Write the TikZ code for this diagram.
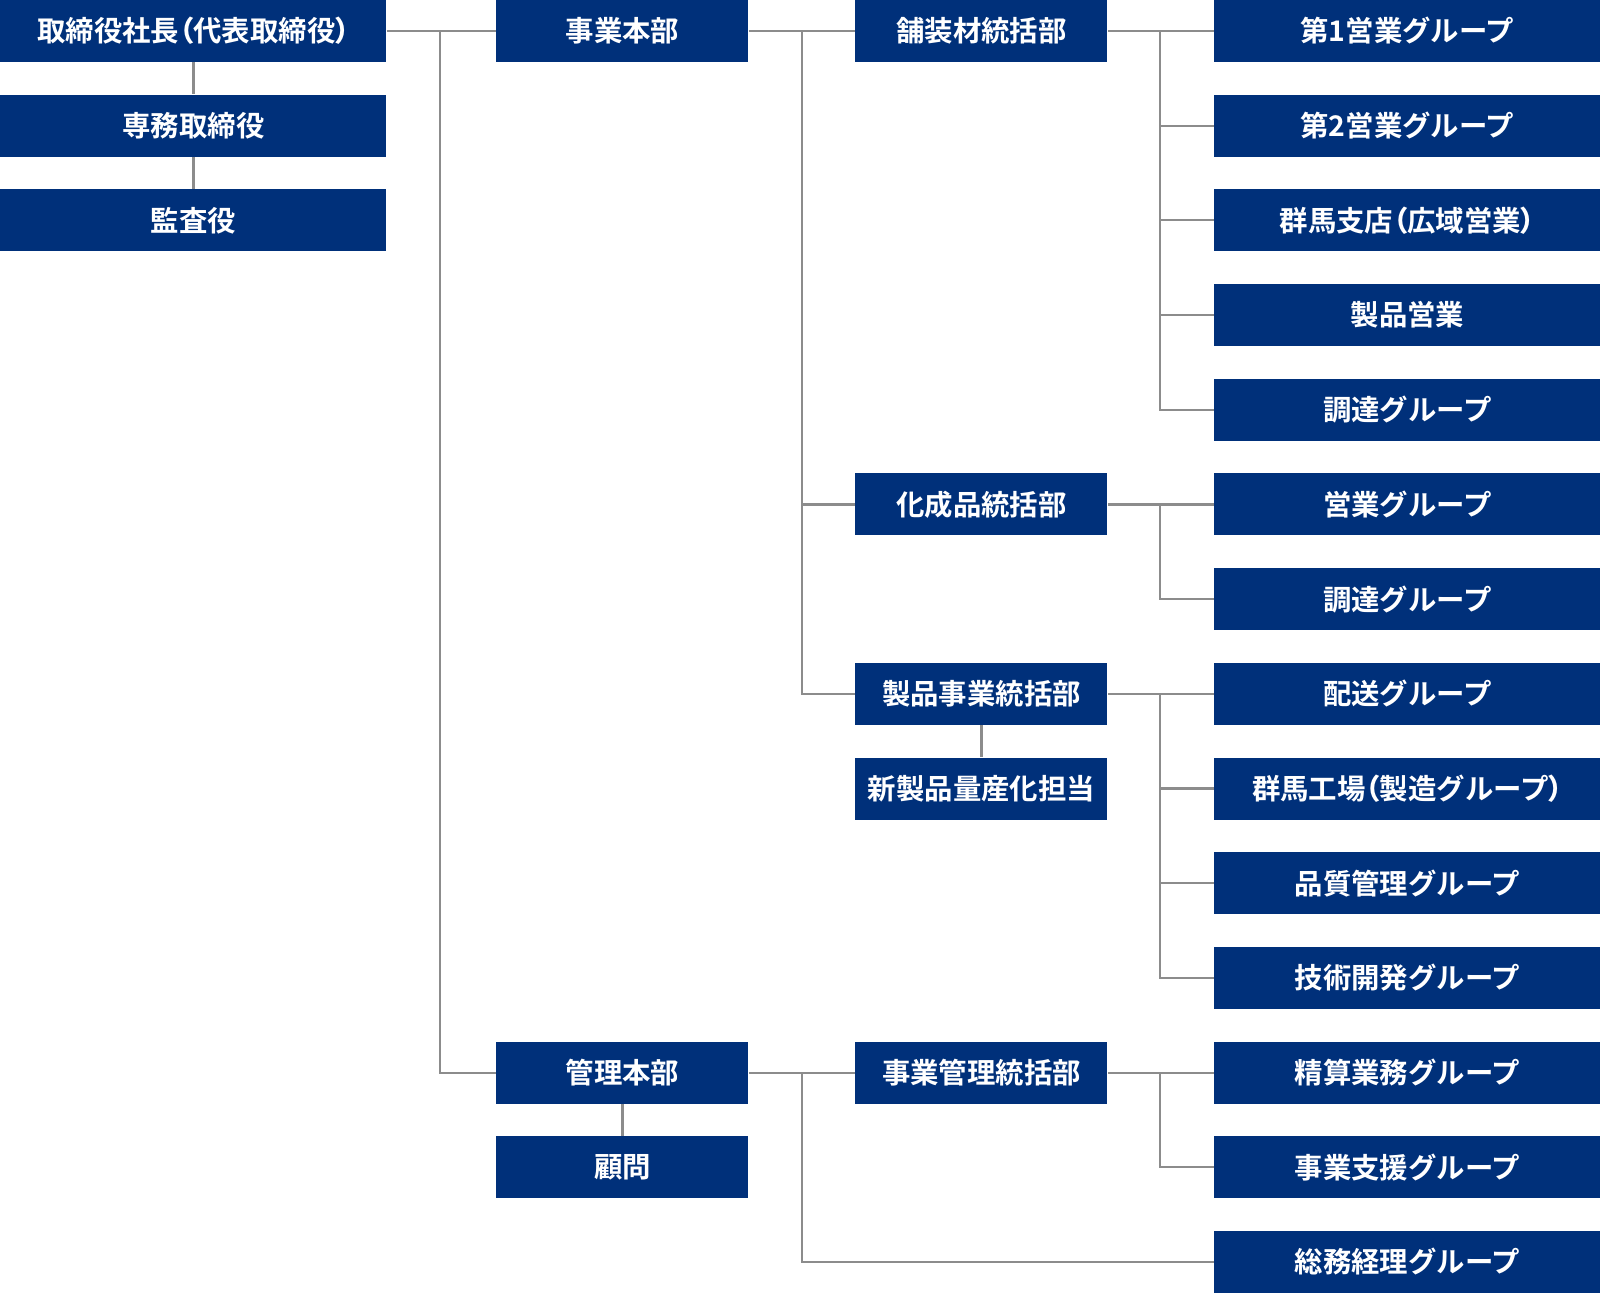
\documentclass[tikz,border=0pt]{standalone}
\usepackage{fontspec}
\setmainfont{Noto Sans CJK JP}[BoldFont={Noto Sans CJK JP Bold}]
\newfontfamily\parenfont{Noto Sans CJK JP Bold}[RawFeature=+palt]
\newcommand{\lp}{{\parenfont （}}
\newcommand{\rp}{{\parenfont ）}}
\definecolor{navy}{HTML}{00307A}
\definecolor{linegray}{HTML}{8C8C8C}
\begin{document}
\begin{tikzpicture}[x=0.5pt,y=-0.5pt,
  box/.style={fill=navy,draw=none,text=white,font=\fontsize{14.2pt}{16pt}\selectfont\bfseries,
    minimum height=31pt,inner sep=0pt,anchor=west},
  wide/.style={box,minimum width=193pt},
  mid/.style={box,minimum width=126pt},
  conn/.style={draw=linegray,line width=1.1pt}]
\useasboundingbox (0,0) rectangle (1600,1293);
% column 1
\node[wide] (ceo) at (0,31) {取締役社長\lp 代表取締役\rp};
\node[wide] (senmu) at (0,125.7) {専務取締役};
\node[wide] (kansa) at (0,220.4) {監査役};
% column 2
\node[mid] (jigyo) at (496,31) {事業本部};
\node[mid] (kanri) at (496,1072.6) {管理本部};
\node[mid] (komon) at (496,1167.3) {顧問};
% column 3
\node[mid] (hoso) at (855,31) {舗装材統括部};
\node[mid] (kasei) at (855,504.5) {化成品統括部};
\node[mid] (seihin) at (855,693.8) {製品事業統括部};
\node[mid] (shin) at (855,788.5) {新製品量産化担当};
\node[mid] (jkanri) at (855,1072.6) {事業管理統括部};
% column 4
\node[wide] (g1) at (1214,31) {第1営業グループ};
\node[wide] (g2) at (1214,125.7) {第2営業グループ};
\node[wide] (g3) at (1214,220.4) {群馬支店\lp 広域営業\rp};
\node[wide] (g4) at (1214,315.1) {製品営業};
\node[wide] (g5) at (1214,409.8) {調達グループ};
\node[wide] (g6) at (1214,504.5) {営業グループ};
\node[wide] (g7) at (1214,599.1) {調達グループ};
\node[wide] (g8) at (1214,693.8) {配送グループ};
\node[wide] (g9) at (1214,788.5) {群馬工場\lp 製造グループ\rp};
\node[wide] (g10) at (1214,883.2) {品質管理グループ};
\node[wide] (g11) at (1214,977.9) {技術開発グループ};
\node[wide] (g12) at (1214,1072.6) {精算業務グループ};
\node[wide] (g13) at (1214,1167.3) {事業支援グループ};
\node[wide] (g14) at (1214,1262.0) {総務経理グループ};
% bus coordinates
\coordinate (b1) at (440,0);
\coordinate (b2) at (802,0);
\coordinate (b3) at (1160,0);
% connectors column 1
\draw[conn] (ceo.south) -- (senmu.north);
\draw[conn] (senmu.south) -- (kansa.north);
\draw[conn] (ceo.east) -- (jigyo.west);
\draw[conn] (ceo.east -| b1) |- (kanri.west);
% column 2
\draw[conn] (jigyo.east) -- (hoso.west);
\draw[conn] (jigyo.east -| b2) |- (kasei.west);
\draw[conn] (jigyo.east -| b2) |- (seihin.west);
\draw[conn] (kanri.south) -- (komon.north);
\draw[conn] (kanri.east) -- (jkanri.west);
\draw[conn] (kanri.east -| b2) |- (g14.west);
% column 3
\draw[conn] (seihin.south) -- (shin.north);
\draw[conn] (hoso.east) -- (g1.west);
\foreach \g in {g2,g3,g4,g5} \draw[conn] (hoso.east -| b3) |- (\g.west);
\draw[conn] (kasei.east) -- (g6.west);
\draw[conn] (kasei.east -| b3) |- (g7.west);
\draw[conn] (seihin.east) -- (g8.west);
\foreach \g in {g9,g10,g11} \draw[conn] (seihin.east -| b3) |- (\g.west);
\draw[conn] (jkanri.east) -- (g12.west);
\draw[conn] (jkanri.east -| b3) |- (g13.west);
\end{tikzpicture}
\end{document}
